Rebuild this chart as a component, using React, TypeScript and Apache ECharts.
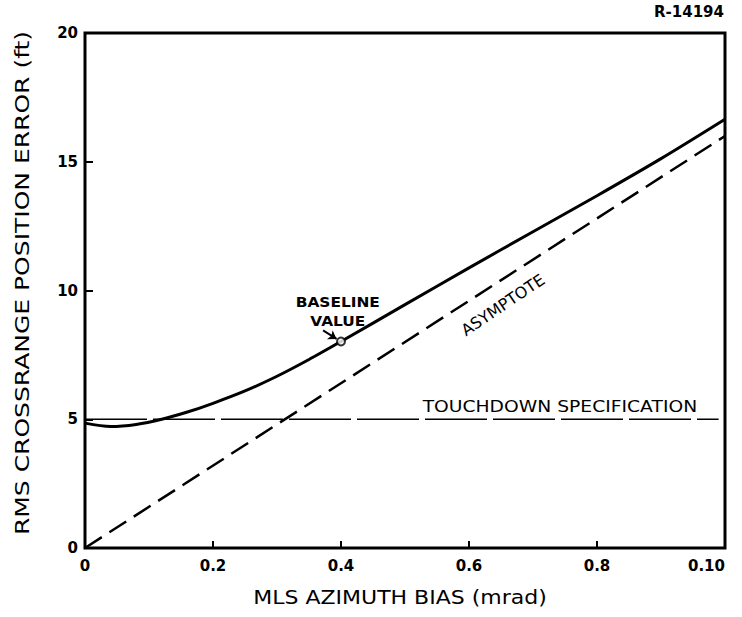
import React, { useEffect, useRef } from "react";
import * as echarts from "echarts";

const xTickLabels = ["0", "0.2", "0.4", "0.6", "0.8", "0.10"];
const yTickLabels = ["0", "5", "10", "15", "20"];

const rmsErrorCurve: [number, number][] = [
  [0, 4.85], [0.04, 4.72], [0.08, 4.8], [0.12, 5.0], [0.16, 5.28],
  [0.2, 5.62], [0.25, 6.1], [0.3, 6.67], [0.35, 7.32], [0.4, 8.02],
  [0.5, 9.45], [0.6, 10.88], [0.7, 12.28], [0.8, 13.68], [0.9, 15.12],
  [1.0, 16.65],
];
const asymptote: [number, number][] = [[0, 0], [1.0, 16]];
const touchdownSpec: [number, number][] = [[0, 5], [0.99, 5]];
const baselinePoint: [number, number][] = [[0.4, 8.02]];

const baselineLabelPos: [number, number] = [0.395, 9.2];
const baselineArrow: [number, number][] = [[0.372, 8.45], [0.393, 8.12]];
const asymptoteLabelPos: [number, number] = [0.653, 9.44];
const touchdownLabelPos: [number, number] = [0.742, 5.48];

const FONT = "'DejaVu Sans', sans-serif";

export default function App() {
  const ref = useRef<HTMLDivElement>(null);
  useEffect(() => {
    if (!ref.current) return;
    const chart = echarts.init(ref.current, null, { renderer: "svg" });
    chart.setOption({
      animation: false,
      backgroundColor: "#ffffff",
      grid: {
        left: 85, top: 33, right: 17, bottom: 69,
        show: true, borderColor: "#000", borderWidth: 3, backgroundColor: "transparent",
      },
      xAxis: {
        type: "value", min: 0, max: 1, interval: 0.2,
        axisLine: { show: false },
        splitLine: { show: false },
        axisTick: { show: true, inside: true, length: 7, lineStyle: { color: "#000", width: 2 } },
        axisLabel: {
          margin: 10, color: "#000", fontFamily: FONT, fontWeight: "bold", fontSize: 15,
          alignMaxLabel: "right",
          formatter: (v: number) => xTickLabels[Math.round(v / 0.2)] ?? "",
        },
      },
      yAxis: {
        type: "value", min: 0, max: 20, interval: 5,
        axisLine: { show: false },
        splitLine: { show: false },
        axisTick: { show: true, inside: true, length: 8, lineStyle: { color: "#000", width: 2 } },
        axisLabel: {
          margin: 7, color: "#000", fontFamily: FONT, fontWeight: "bold", fontSize: 15,
          formatter: (v: number) => yTickLabels[Math.round(v / 5)] ?? "",
        },
      },
      series: [
        {
          type: "line", data: touchdownSpec, symbol: "none",
          lineStyle: { color: "#000", width: 1.5, type: [62, 6] }, z: 2,
        },
        {
          type: "line", data: asymptote, symbol: "none",
          lineStyle: { color: "#000", width: 2.5, type: [20, 9] }, z: 3,
        },
        {
          type: "line", data: rmsErrorCurve, symbol: "none", smooth: 0.3,
          lineStyle: { color: "#000", width: 3 }, z: 4,
        },
        {
          type: "scatter", data: baselinePoint, symbol: "circle", symbolSize: 8,
          itemStyle: { color: "#fff", borderColor: "#000", borderWidth: 2 }, z: 6,
          markLine: {
            silent: true, symbol: ["none", "arrow"], symbolSize: 8,
            label: { show: false },
            lineStyle: { color: "#000", width: 2, type: "solid" },
            data: [[{ coord: baselineArrow[0] }, { coord: baselineArrow[1] }]],
          },
        },
      ],
    });

    const px = (p: [number, number]) => chart.convertToPixel({ gridIndex: 0 }, p) as number[];
    const b = px(baselineLabelPos);
    const a = px(asymptoteLabelPos);
    const t = px(touchdownLabelPos);
    chart.setOption({
      graphic: [
        {
          type: "text", x: b[0], y: b[1], scaleX: 1.1,
          style: {
            text: "BASELINE\nVALUE", fill: "#000", font: `bold 14px ${FONT}`,
            align: "center", verticalAlign: "middle", lineHeight: 19,
          },
        },
        {
          type: "text", x: a[0], y: a[1], rotation: (34 * Math.PI) / 180,
          style: {
            text: "ASYMPTOTE", fill: "#000", font: `16px ${FONT}`,
            align: "center", verticalAlign: "middle",
          },
        },
        {
          type: "text", x: t[0], y: t[1], scaleX: 1.17,
          style: {
            text: "TOUCHDOWN SPECIFICATION", fill: "#000", font: `16px ${FONT}`,
            align: "center", verticalAlign: "middle",
          },
        },
        {
          type: "text", x: 22, y: 283, rotation: Math.PI / 2, scaleX: 1.25,
          style: {
            text: "RMS CROSSRANGE POSITION ERROR (ft)", fill: "#000", font: `20px ${FONT}`,
            align: "center", verticalAlign: "middle",
          },
        },
        {
          type: "text", x: 400, y: 597, scaleX: 1.1,
          style: {
            text: "MLS AZIMUTH BIAS (mrad)", fill: "#000", font: `20px ${FONT}`,
            align: "center", verticalAlign: "middle",
          },
        },
        {
          type: "text", x: 724, y: 12,
          style: {
            text: "R-14194", fill: "#000", font: `bold 15px ${FONT}`,
            align: "right", verticalAlign: "middle",
          },
        },
      ],
    });
    return () => chart.dispose();
  }, []);
  return <div ref={ref} style={{ width: 742, height: 617, position: "absolute", left: 0, top: 0 }} />;
}
